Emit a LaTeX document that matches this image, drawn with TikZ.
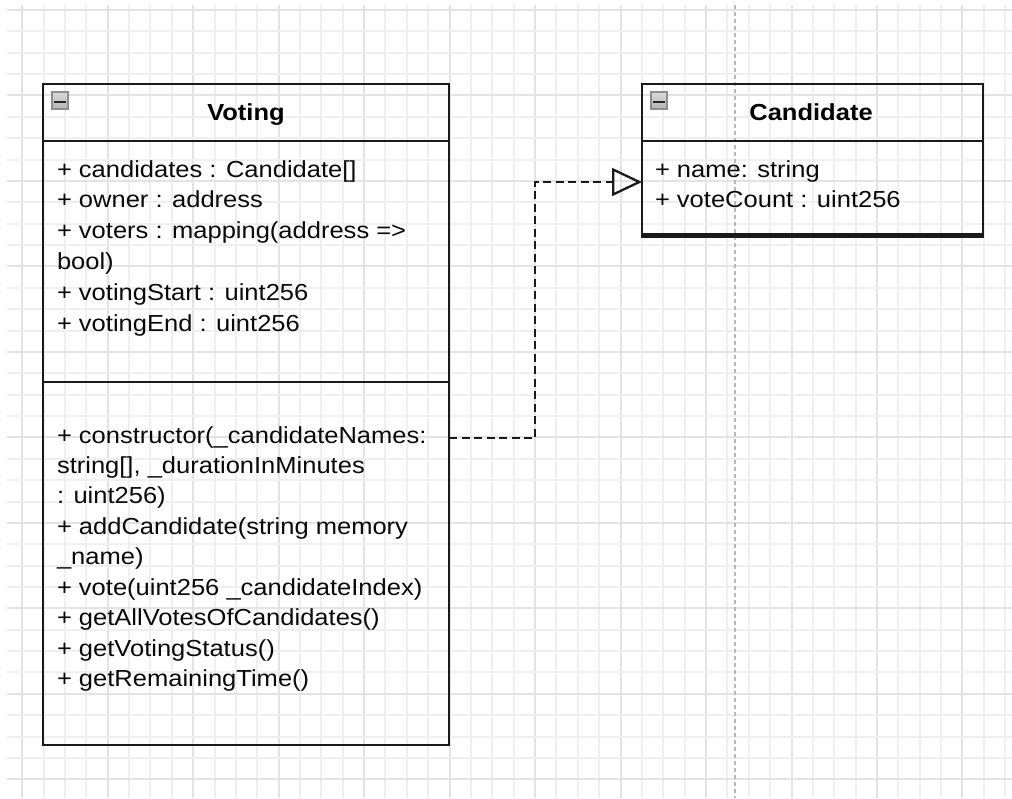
\documentclass[tikz,border=0pt]{standalone}
\usepackage{fontspec}
\setmainfont{Liberation Sans}[FakeStretch=1.1]
\usetikzlibrary{arrows.meta,calc}

\definecolor{gridminor}{HTML}{EFEFEF}
\definecolor{gridmajor}{HTML}{E3E3E3}
\definecolor{pagebreak}{HTML}{B8B8B8}
\definecolor{umlline}{HTML}{1A1A1A}
\definecolor{membertext}{HTML}{0A0A0A}
\definecolor{iconedge}{HTML}{8E8E8E}
\definecolor{icontop}{HTML}{DADADA}
\definecolor{iconbottom}{HTML}{B4B4B4}

\tikzset{
  classbox/.style={draw=umlline, line width=2.5pt, anchor=north west,
    inner sep=0pt, outer sep=0pt},
  divider/.style={draw=umlline, line width=2.5pt},
  member/.style={anchor=base west, inner sep=0pt, outer sep=0pt,
    text=membertext, font=\fontsize{23.2}{28}\selectfont},
  classname/.style={anchor=base, inner sep=0pt, outer sep=0pt,
    text=black, font=\fontsize{23.2}{28}\selectfont\bfseries},
  foldicon/.style={draw=iconedge, line width=1.2pt, top color=icontop,
    bottom color=iconbottom, minimum width=16pt, minimum height=17pt,
    inner sep=0pt, outer sep=0pt},
  foldbar/.style={draw=black!85, line width=2.3pt},
  realize/.style={draw=umlline, line width=2.5pt, dash pattern=on 8pt off 4.5pt,
    -{Triangle[open, length=30pt, width=28pt, line width=2.3pt]}},
  gridline/.style={line width=2pt}
}

\begin{document}
\begin{tikzpicture}[x=1pt, y=-1pt]
  % canvas
  \useasboundingbox (0,0) rectangle (1012,798);
  \fill[white] (0,0) rectangle (1012,798);

  % background grid on whole points, heavier every fourth line
  \foreach \k in {0,...,46} {
    \pgfmathtruncatemacro{\gx}{round(22.2+21.37*\k)}
    \pgfmathtruncatemacro{\m}{mod(\k,4)}
    \ifnum\m=0
      \draw[gridline, gridmajor] (\gx,5) -- (\gx,798);
    \else
      \draw[gridline, gridminor] (\gx,5) -- (\gx,798);
    \fi
  }
  \foreach \k in {0,...,36} {
    \pgfmathtruncatemacro{\gy}{round(10+21.37*\k)}
    \pgfmathtruncatemacro{\m}{mod(\k,4)}
    \ifnum\m=0
      \draw[gridline, gridmajor] (7,\gy) -- (1012,\gy);
    \else
      \draw[gridline, gridminor] (7,\gy) -- (1012,\gy);
    \fi
  }

  % page break
  \draw[pagebreak, line width=1.5pt, dash pattern=on 4pt off 3pt] (735,5) -- (735,798);

  % ---- class Voting ----
  \node[classbox, minimum width=406pt, minimum height=661pt] (voting) at (43,84) {};
  \draw[divider] (43,141) -- (449,141);
  \draw[divider] (43,382) -- (449,382);
  \node[foldicon] (vfold) at (60,100.5) {};
  \draw[foldbar] ([xshift=-6pt,yshift=-1.2pt]vfold.center) -- ([xshift=6pt,yshift=-1.2pt]vfold.center);
  \node[classname] (vname) at (246,120.7) {Voting};

  \foreach \t [count=\i] in {
      {+ candidates : Candidate[]},
      {+ owner : address},
      {+ voters : mapping(address =>},
      {bool)},
      {+ votingStart : uint256},
      {+ votingEnd : uint256}} {
    \node[member] (vattr\i) at (57,{177+30.8*(\i-1)}) {\t};
  }

  \foreach \t [count=\i] in {
      {+ constructor(\_candidateNames:},
      {string[], \_durationInMinutes},
      {: uint256)},
      {+ addCandidate(string memory},
      {\_name)},
      {+ vote(uint256 \_candidateIndex)},
      {+ getAllVotesOfCandidates()},
      {+ getVotingStatus()},
      {+ getRemainingTime()}} {
    \node[member] (vop\i) at (57,{443+30.45*(\i-1)}) {\t};
  }

  % ---- class Candidate ----
  \node[classbox, minimum width=341pt, minimum height=153pt] (cand) at (642,84) {};
  \draw[divider] (642,141) -- (983,141);
  \draw[divider] (642,234.5) -- (983,234.5);
  \node[foldicon] (cfold) at (659,100.5) {};
  \draw[foldbar] ([xshift=-6pt,yshift=-1.2pt]cfold.center) -- ([xshift=6pt,yshift=-1.2pt]cfold.center);
  \node[classname] (cname) at (811,120.7) {Candidate};

  \node[member] (cattr1) at (655,177) {+ name: string};
  \node[member] (cattr2) at (655,207.5) {+ voteCount : uint256};

  % ---- realization: Voting ..|> Candidate ----
  \coordinate (src) at ($(voting.north east)+(0,354)$);
  \coordinate (dst) at ($(cand.north west)+(0,98)$);
  \draw[realize] (src) -- ++(86,0) |- (dst);
\end{tikzpicture}
\end{document}
